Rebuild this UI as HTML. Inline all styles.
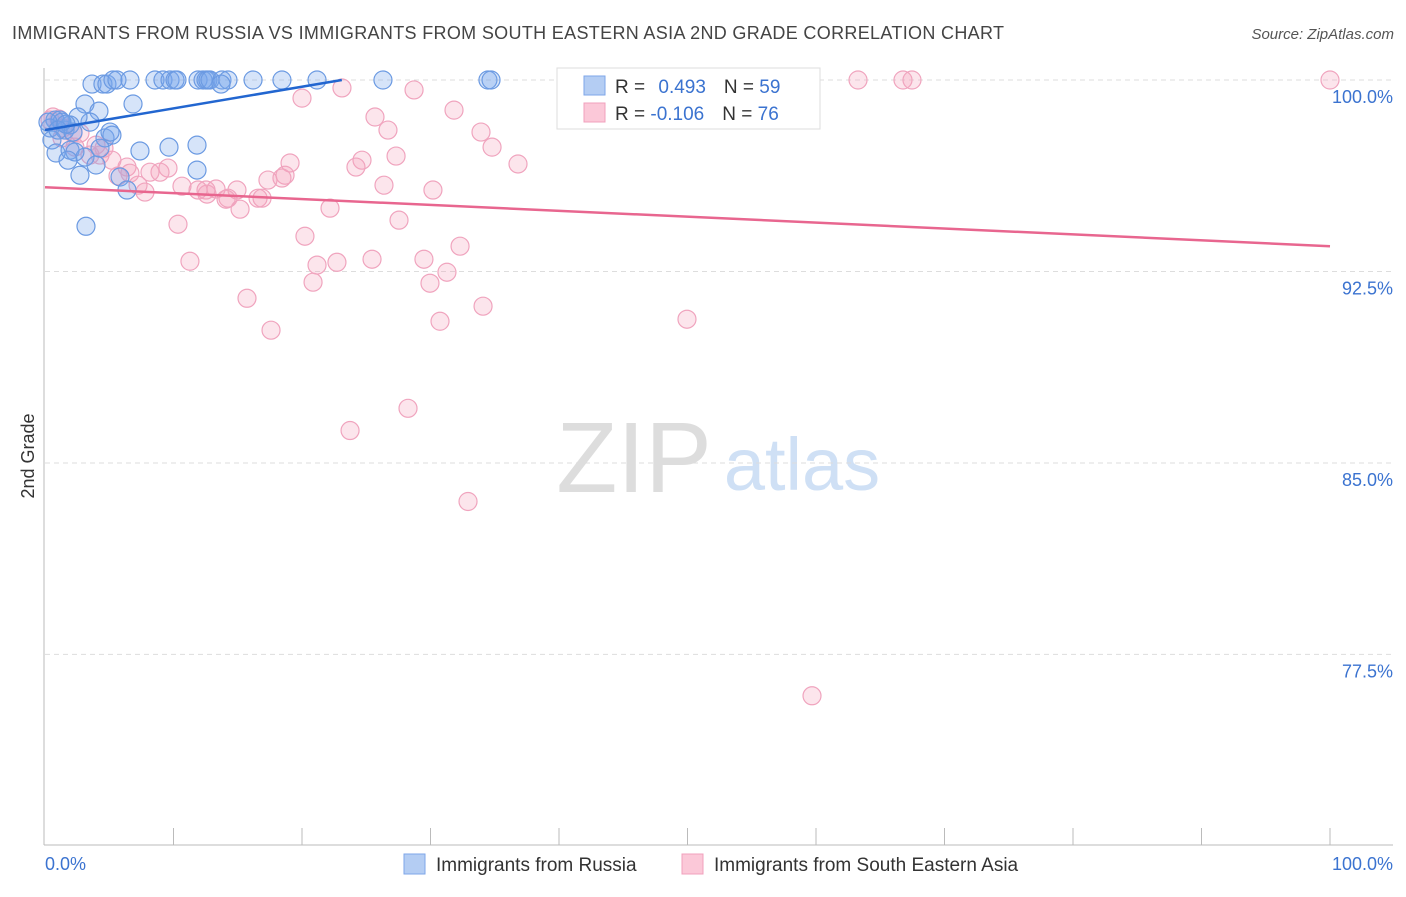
<!DOCTYPE html>
<html><head><meta charset="utf-8"><style>
body{margin:0;background:#fff;font-family:"Liberation Sans",sans-serif;}
svg text{font-family:"Liberation Sans",sans-serif;}
</style></head><body>
<svg id="chart" width="1406" height="892" xmlns="http://www.w3.org/2000/svg">
<text x="12" y="39" font-size="18" fill="#444" textLength="992" lengthAdjust="spacing">IMMIGRANTS FROM RUSSIA VS IMMIGRANTS FROM SOUTH EASTERN ASIA 2ND GRADE CORRELATION CHART</text>
<text x="1394" y="39" font-size="15" fill="#555" font-style="italic" text-anchor="end">Source: ZipAtlas.com</text>
<g>
<text x="634" y="492" font-size="100" fill="#ddd" font-family="Liberation Serif,serif" text-anchor="middle">ZIP</text>
<text x="802" y="490" font-size="74" fill="#cfe0f5" text-anchor="middle">atlas</text>
</g>
<g id="grid"></g>
<g id="axes"></g>
<g id="pts"></g>
<g id="trend"></g>
<text transform="translate(34,456) rotate(-90)" font-size="18" fill="#333" text-anchor="middle">2nd Grade</text>
<g>
<rect x="557" y="68" width="263" height="61" fill="#fff" stroke="#ddd"/>
<rect x="584" y="76" width="21" height="19" fill="#b4cdf3" stroke="#7ea6e8"/>
<rect x="584" y="103" width="21" height="19" fill="#fbc8d8" stroke="#f0a0bc"/>
<text x="615" y="93" font-size="19" fill="#333">R = <tspan fill="#3b73d0" dx="8">0.493</tspan><tspan fill="#333" dx="18">N = </tspan><tspan fill="#3b73d0">59</tspan></text>
<text x="615" y="120" font-size="19" fill="#333">R = <tspan fill="#3b73d0">-0.106</tspan><tspan fill="#333" dx="18">N = </tspan><tspan fill="#3b73d0">76</tspan></text>
</g>
<g>
<rect x="404" y="854" width="21" height="20" fill="#b4cdf3" stroke="#7ea6e8"/>
<text x="436" y="871" font-size="19" fill="#333">Immigrants from Russia</text>
<rect x="682" y="854" width="21" height="20" fill="#fbc8d8" stroke="#f0a0bc"/>
<text x="714" y="871" font-size="19" fill="#333">Immigrants from South Eastern Asia</text>
</g>
</svg>
<script>
const yTicks=[100,92.5,85,77.5];
const yTickLabels=["100.0%","92.5%","85.0%","77.5%"];
const russiaX=[3.66,4.51,4.82,5.29,5.60,6.61,8.56,9.18,9.73,10.12,10.27,11.91,12.30,12.53,12.68,12.84,13.77,14.24,16.19,18.44,21.17,26.30,34.47,34.71,13.70,6.85,3.11,4.20,3.50,2.57,0.78,1.17,0.39,1.56,1.95,4.67,5.21,5.06,0.54,0.86,1.95,3.11,3.97,2.33,7.39,9.65,11.83,11.83,2.72,5.84,6.38,3.19,1.32,0.23,1.01,1.79,4.28,2.18,1.63];
const russiaY=[99.84,99.84,99.84,100,100,100,100,100,100,100,100,100,100,100,100,100,100,100,100,100,100,100,100,100,99.84,99.06,99.06,98.78,98.35,98.55,98.43,98.43,98.12,98.04,98.24,97.73,97.84,97.96,97.65,97.14,97.25,96.98,96.67,97.18,97.22,97.37,97.45,96.47,96.27,96.20,95.69,94.27,98.35,98.35,98.04,96.86,97.33,97.96,98.27];
const seaX=[100,63.27,66.77,67.47,23.11,20.0,28.72,31.83,25.68,26.69,33.93,34.79,36.81,27.32,24.67,24.20,26.38,30.19,22.18,27.55,32.30,20.23,25.45,29.49,31.28,21.17,22.72,20.86,29.96,34.09,15.72,17.59,30.74,49.96,28.25,23.74,32.92,59.69,19.07,18.68,17.35,18.44,14.94,14.24,13.31,12.53,11.91,10.66,15.18,16.58,16.89,9.57,8.95,8.17,7.78,7.24,6.38,5.21,4.59,3.97,3.50,2.33,1.32,0.62,1.09,1.40,0.39,2.18,2.72,4.28,5.68,6.61,10.35,11.28,14.09,12.61];
const seaY=[100,100,100,100,99.69,99.29,99.61,98.82,98.55,98.04,97.96,97.37,96.71,97.02,96.86,96.59,95.88,95.69,94.98,94.51,93.49,93.88,92.98,92.98,92.47,92.75,92.86,92.08,92.04,91.14,91.45,90.20,90.55,90.63,87.14,86.27,83.49,75.88,96.75,96.27,96.08,96.16,95.69,95.37,95.73,95.69,95.69,95.84,94.94,95.37,95.37,96.55,96.39,96.39,95.61,95.88,96.59,96.86,97.33,97.45,97.06,97.37,97.73,98.55,98.47,98.12,98.43,97.92,97.92,97.06,96.24,96.35,94.35,92.90,95.33,95.53];
const russiaTrend=[[0,98.04],[23.1,100]];
const seaTrend=[[0,95.8],[100,93.49]];
const NS="http://www.w3.org/2000/svg";
const X0=45,X1=1330,Y100=80,PPU=25.53;
const sx=v=>X0+(X1-X0)*v/100;
const sy=v=>Y100+(100-v)*PPU;
function mk(tag,attrs,parent){const e=document.createElementNS(NS,tag);for(const k in attrs)e.setAttribute(k,attrs[k]);parent.appendChild(e);return e;}
const grid=document.getElementById('grid'),axes=document.getElementById('axes'),pts=document.getElementById('pts'),trend=document.getElementById('trend');
yTicks.forEach((t,i)=>{
 const l=mk('line',{x1:45,x2:1393,y1:sy(t),y2:sy(t),stroke:'#ddd','stroke-dasharray':'5,4'},grid);
 
 
 const tx=mk('text',{x:1393,y:sy(t)+23,'font-size':18,fill:'#3b73d0','text-anchor':'end'},grid);
 tx.textContent=yTickLabels[i];
 
 
});
const ax=mk('line',{x1:44,x2:44,y1:68,y2:845,stroke:'#bbb'},axes);


const bx=mk('line',{x1:44,x2:1393,y1:845,y2:845,stroke:'#bbb'},axes);


for(let i=1;i<=10;i++){const tk=mk('line',{x1:sx(i*10),x2:sx(i*10),y1:828,y2:845,stroke:'#bbb'},axes);
 
 }
const xl0=mk('text',{x:45,y:870,'font-size':18,fill:'#3b73d0'},axes);xl0.textContent='0.0%';


const xl1=mk('text',{x:1393,y:870,'font-size':18,fill:'#3b73d0','text-anchor':'end'},axes);xl1.textContent='100.0%';


seaX.forEach((v,i)=>{const c=mk('circle',{cx:sx(v),cy:sy(seaY[i]),r:9,fill:'rgba(244,160,188,0.28)',stroke:'#f0a4be','stroke-width':1.2},pts);
 
 });
russiaX.forEach((v,i)=>{const c=mk('circle',{cx:sx(v),cy:sy(russiaY[i]),r:9,fill:'rgba(120,165,235,0.3)',stroke:'#6b9ae2','stroke-width':1.2},pts);
 
 });
const t1=mk('line',{x1:sx(russiaTrend[0][0]),y1:sy(russiaTrend[0][1]),x2:sx(russiaTrend[1][0]),y2:sy(russiaTrend[1][1]),stroke:'#2266d0','stroke-width':2.5},trend);


const t2=mk('line',{x1:sx(seaTrend[0][0]),y1:sy(seaTrend[0][1]),x2:sx(seaTrend[1][0]),y2:sy(seaTrend[1][1]),stroke:'#e8668f','stroke-width':2.5},trend);


</script>
</body></html>
